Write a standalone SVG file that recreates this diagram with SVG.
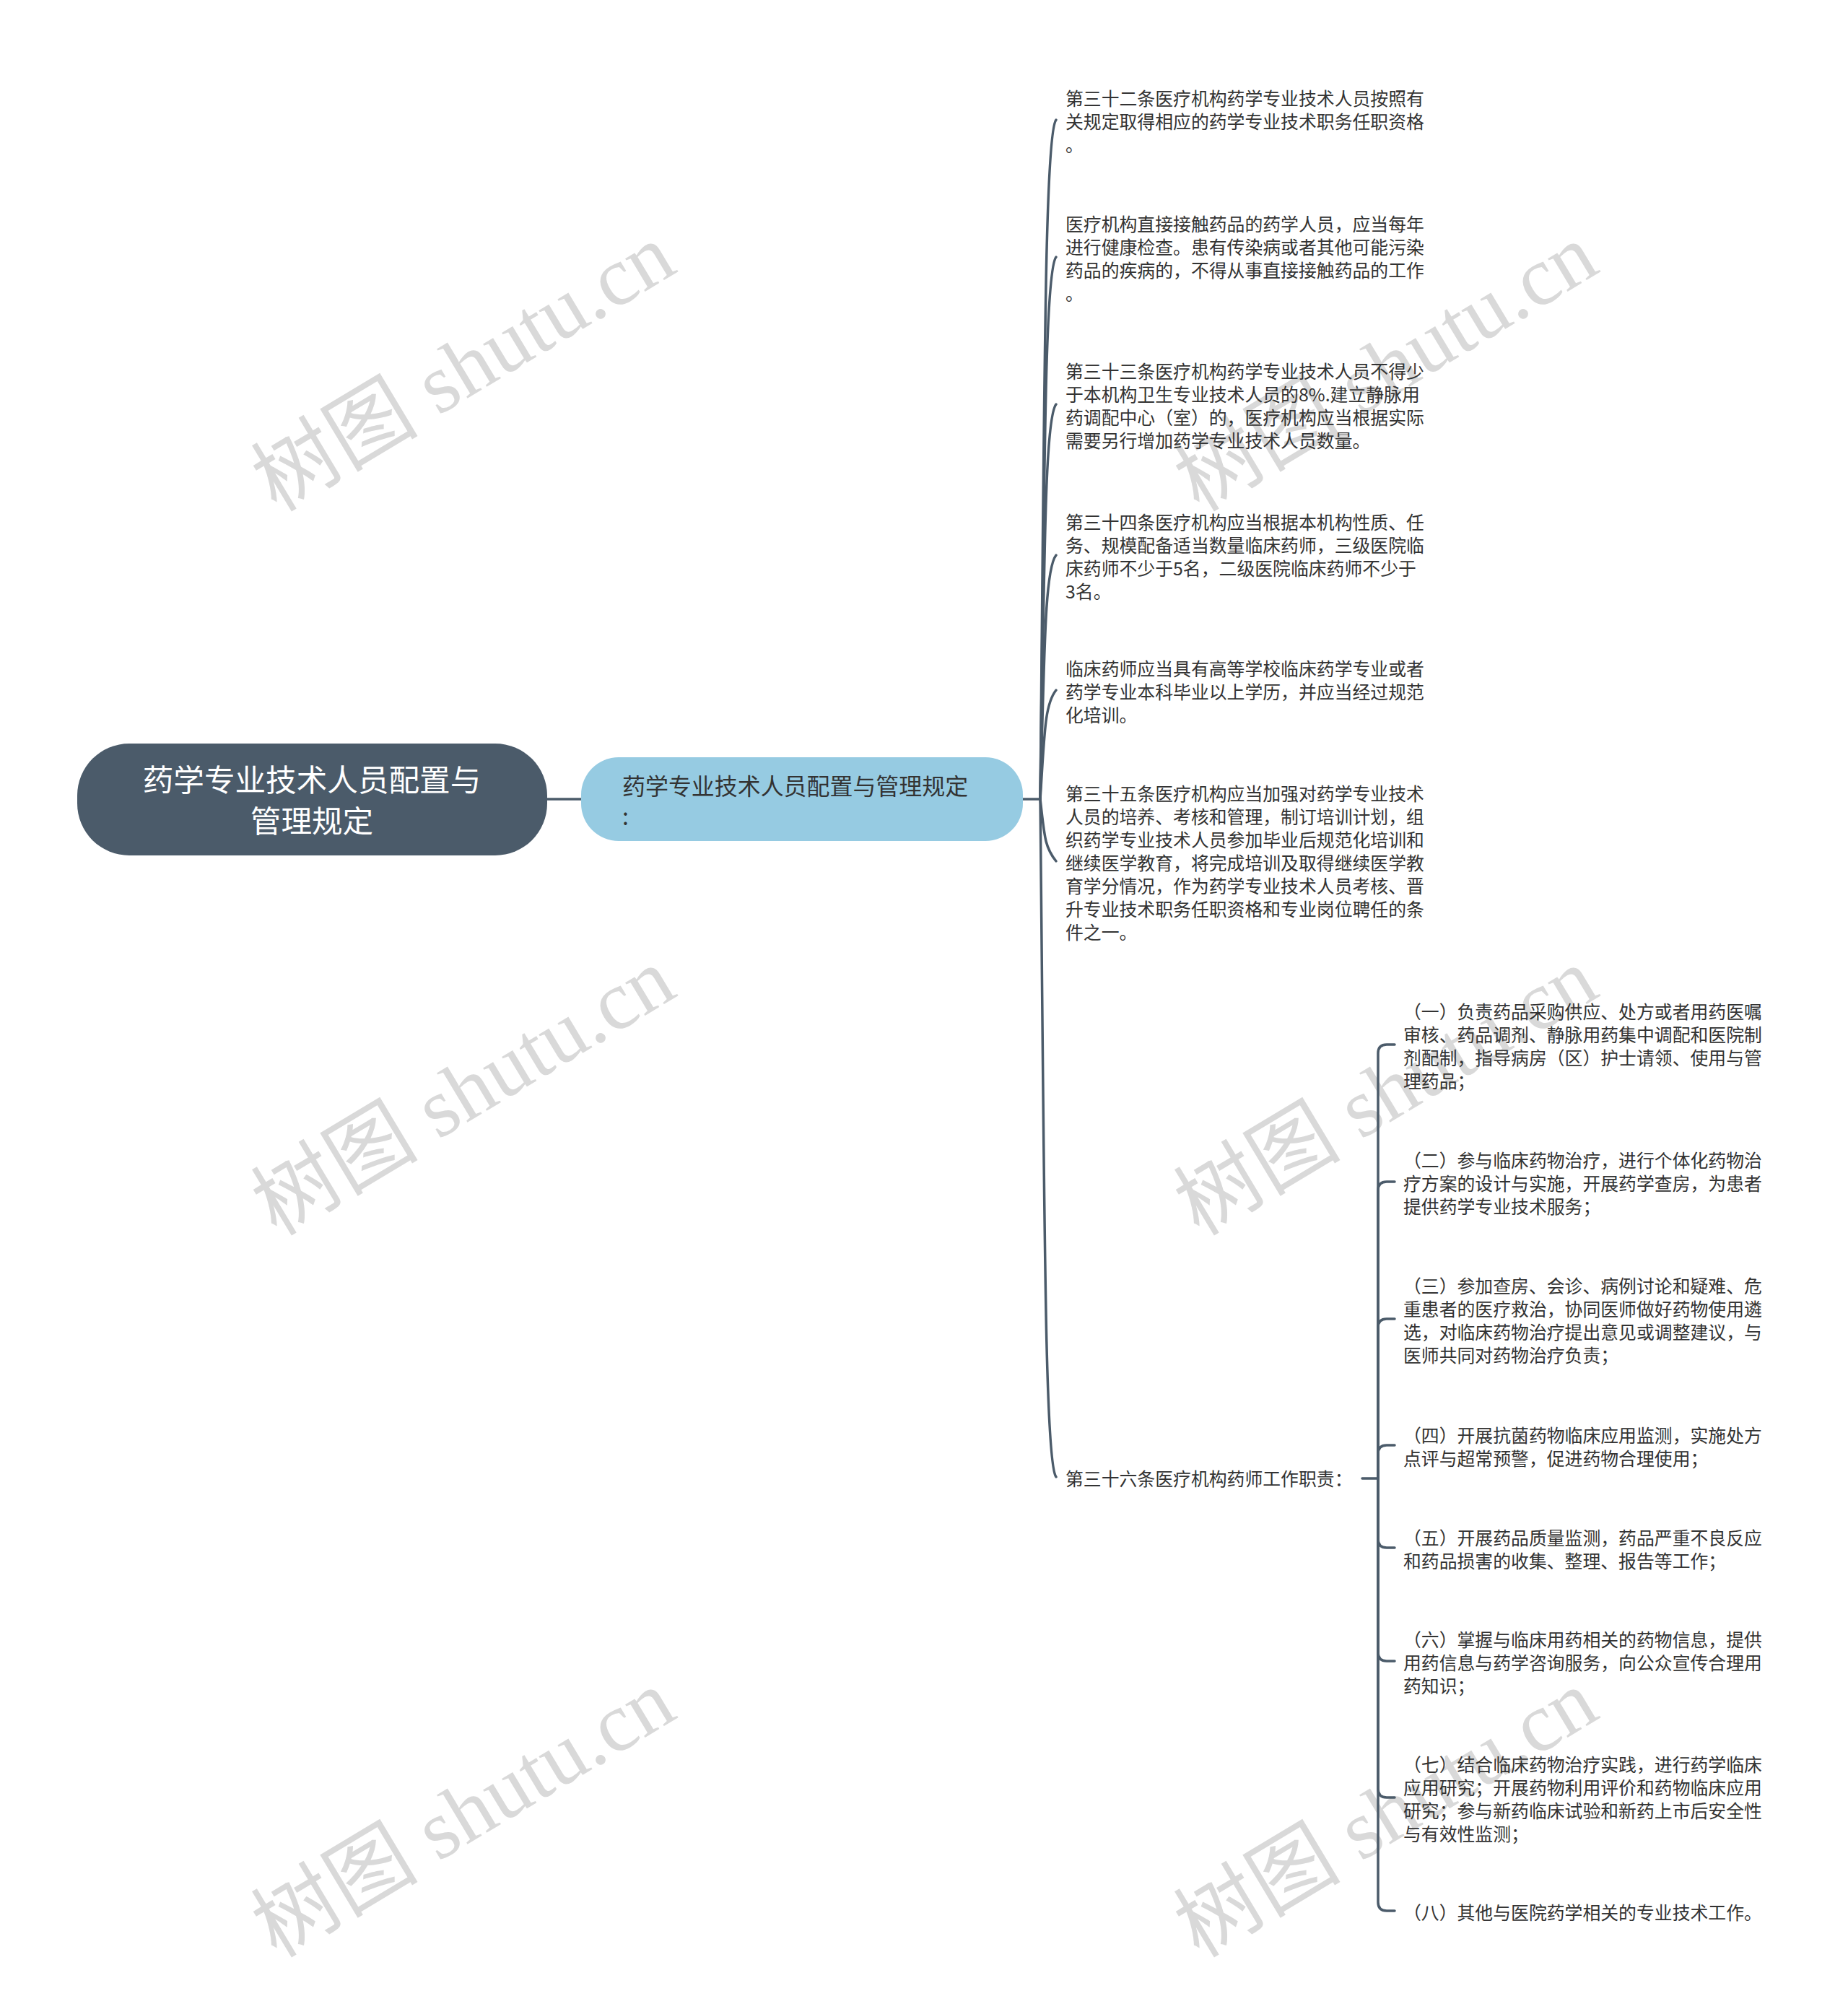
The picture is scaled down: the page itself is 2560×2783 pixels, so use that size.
<svg xmlns="http://www.w3.org/2000/svg" width="2560" height="2783" viewBox="0 0 2560 2783">
<style>
.bg{fill:#ffffff}
.wm{font-family:"Liberation Serif","Noto Sans CJK SC",serif;font-size:116px;fill:#d9d9d9}
.conn{fill:none;stroke:#4b5b6a;stroke-width:3.5;stroke-linecap:round;stroke-linejoin:round}
.leaf{font-family:"Noto Sans CJK SC","Noto Sans",sans-serif;font-size:24.85px;fill:#333333}
.root-box{fill:#4b5b6a}
.root-text{font-family:"Noto Sans CJK SC","Noto Sans",sans-serif;font-size:42.6px;fill:#ffffff;text-anchor:middle}
.sub-box{fill:#96cbe2}
.sub-text{font-family:"Noto Sans CJK SC","Noto Sans",sans-serif;font-size:31.95px;fill:#333333}
</style>
<rect class="bg" x="0" y="0" width="2560" height="2783"/>
<g id="watermarks">
<text class="wm" text-anchor="middle" transform="translate(662,543) rotate(-31)">树图 shutu.cn</text>
<text class="wm" text-anchor="middle" transform="translate(1940,543) rotate(-31)">树图 shutu.cn</text>
<text class="wm" text-anchor="middle" transform="translate(662,1546) rotate(-31)">树图 shutu.cn</text>
<text class="wm" text-anchor="middle" transform="translate(1940,1546) rotate(-31)">树图 shutu.cn</text>
<text class="wm" text-anchor="middle" transform="translate(662,2546) rotate(-31)">树图 shutu.cn</text>
<text class="wm" text-anchor="middle" transform="translate(1940,2546) rotate(-31)">树图 shutu.cn</text>
</g>
<g id="connectors">
<path class="conn" d="M758 1107 L805 1107"/>
<path class="conn" d="M1417 1107 L1441 1107"/>
<path class="conn" d="M1441 1107 C1447 542 1447 186 1463 166"/>
<path class="conn" d="M1441 1107 C1447 656 1447 376 1463 356"/>
<path class="conn" d="M1441 1107 C1447 779 1447 580 1463 560"/>
<path class="conn" d="M1441 1107 C1447 904 1447 789 1463 769"/>
<path class="conn" d="M1441 1107 C1447 1016 1447 976 1463 956"/>
<path class="conn" d="M1441 1107 C1447 1159 1447 1173 1463 1193"/>
<path class="conn" d="M1441 1107 C1447 1670 1447 2026 1463 2046"/>
<path class="conn" d="M1887 2048 L1909 2048"/>
<path class="conn" d="M1909 2048 L1909 1459 Q1909 1447 1921 1447 L1932 1447"/>
<path class="conn" d="M1909 2048 L1909 1649 Q1909 1637 1921 1637 L1932 1637"/>
<path class="conn" d="M1909 2048 L1909 1839 Q1909 1827 1921 1827 L1932 1827"/>
<path class="conn" d="M1909 2048 L1909 2014 Q1909 2002 1921 2002 L1932 2002"/>
<path class="conn" d="M1909 2048 L1909 2132 Q1909 2144 1921 2144 L1932 2144"/>
<path class="conn" d="M1909 2048 L1909 2289 Q1909 2301 1921 2301 L1932 2301"/>
<path class="conn" d="M1909 2048 L1909 2478 Q1909 2490 1921 2490 L1932 2490"/>
<path class="conn" d="M1909 2048 L1909 2635 Q1909 2647 1921 2647 L1932 2647"/>
</g>
<g id="root">
<rect class="root-box" x="107" y="1030" width="651" height="155" rx="72" ry="72"/>
<text class="root-text" x="432" y="1096">药学专业技术人员配置与</text>
<text class="root-text" x="432" y="1153">管理规定</text>
</g>
<g id="branch">
<rect class="sub-box" x="805" y="1049" width="612" height="116" rx="52" ry="52"/>
<text class="sub-text" x="862" y="1101">药学专业技术人员配置与管理规定</text>
<text class="sub-text" x="862" y="1143">:</text>
</g>
<g id="leaf1">
<text class="leaf" x="1476" y="146.4"><tspan x="1476">第三十二条医疗机构药学专业技术人员按照有</tspan><tspan x="1476" dy="31.96">关规定取得相应的药学专业技术职务任职资格</tspan><tspan x="1476" dy="31.96">。</tspan></text>
</g>
<g id="leaf2">
<text class="leaf" x="1476" y="320.4"><tspan x="1476">医疗机构直接接触药品的药学人员，应当每年</tspan><tspan x="1476" dy="31.96">进行健康检查。患有传染病或者其他可能污染</tspan><tspan x="1476" dy="31.96">药品的疾病的，不得从事直接接触药品的工作</tspan><tspan x="1476" dy="31.96">。</tspan></text>
</g>
<g id="leaf3">
<text class="leaf" x="1476" y="524.4"><tspan x="1476">第三十三条医疗机构药学专业技术人员不得少</tspan><tspan x="1476" dy="31.96">于本机构卫生专业技术人员的8%.建立静脉用</tspan><tspan x="1476" dy="31.96">药调配中心（室）的，医疗机构应当根据实际</tspan><tspan x="1476" dy="31.96">需要另行增加药学专业技术人员数量。</tspan></text>
</g>
<g id="leaf4">
<text class="leaf" x="1476" y="733.4"><tspan x="1476">第三十四条医疗机构应当根据本机构性质、任</tspan><tspan x="1476" dy="31.96">务、规模配备适当数量临床药师，三级医院临</tspan><tspan x="1476" dy="31.96">床药师不少于5名，二级医院临床药师不少于</tspan><tspan x="1476" dy="31.96">3名。</tspan></text>
</g>
<g id="leaf5">
<text class="leaf" x="1476" y="936.4"><tspan x="1476">临床药师应当具有高等学校临床药学专业或者</tspan><tspan x="1476" dy="31.96">药学专业本科毕业以上学历，并应当经过规范</tspan><tspan x="1476" dy="31.96">化培训。</tspan></text>
</g>
<g id="leaf6">
<text class="leaf" x="1476" y="1109.4"><tspan x="1476">第三十五条医疗机构应当加强对药学专业技术</tspan><tspan x="1476" dy="31.96">人员的培养、考核和管理，制订培训计划，组</tspan><tspan x="1476" dy="31.96">织药学专业技术人员参加毕业后规范化培训和</tspan><tspan x="1476" dy="31.96">继续医学教育，将完成培训及取得继续医学教</tspan><tspan x="1476" dy="31.96">育学分情况，作为药学专业技术人员考核、晋</tspan><tspan x="1476" dy="31.96">升专业技术职务任职资格和专业岗位聘任的条</tspan><tspan x="1476" dy="31.96">件之一。</tspan></text>
</g>
<g id="leaf7">
<text class="leaf" x="1476" y="2058.4">第三十六条医疗机构药师工作职责：</text>
</g>
<g id="duty1">
<text class="leaf" x="1944" y="1411.4"><tspan x="1944">（一）负责药品采购供应、处方或者用药医嘱</tspan><tspan x="1944" dy="31.96">审核、药品调剂、静脉用药集中调配和医院制</tspan><tspan x="1944" dy="31.96">剂配制，指导病房（区）护士请领、使用与管</tspan><tspan x="1944" dy="31.96">理药品；</tspan></text>
</g>
<g id="duty2">
<text class="leaf" x="1944" y="1617.4"><tspan x="1944">（二）参与临床药物治疗，进行个体化药物治</tspan><tspan x="1944" dy="31.96">疗方案的设计与实施，开展药学查房，为患者</tspan><tspan x="1944" dy="31.96">提供药学专业技术服务；</tspan></text>
</g>
<g id="duty3">
<text class="leaf" x="1944" y="1791.4"><tspan x="1944">（三）参加查房、会诊、病例讨论和疑难、危</tspan><tspan x="1944" dy="31.96">重患者的医疗救治，协同医师做好药物使用遴</tspan><tspan x="1944" dy="31.96">选，对临床药物治疗提出意见或调整建议，与</tspan><tspan x="1944" dy="31.96">医师共同对药物治疗负责；</tspan></text>
</g>
<g id="duty4">
<text class="leaf" x="1944" y="1998.4"><tspan x="1944">（四）开展抗菌药物临床应用监测，实施处方</tspan><tspan x="1944" dy="31.96">点评与超常预警，促进药物合理使用；</tspan></text>
</g>
<g id="duty5">
<text class="leaf" x="1944" y="2140.4"><tspan x="1944">（五）开展药品质量监测，药品严重不良反应</tspan><tspan x="1944" dy="31.96">和药品损害的收集、整理、报告等工作；</tspan></text>
</g>
<g id="duty6">
<text class="leaf" x="1944" y="2281.4"><tspan x="1944">（六）掌握与临床用药相关的药物信息，提供</tspan><tspan x="1944" dy="31.96">用药信息与药学咨询服务，向公众宣传合理用</tspan><tspan x="1944" dy="31.96">药知识；</tspan></text>
</g>
<g id="duty7">
<text class="leaf" x="1944" y="2454.4"><tspan x="1944">（七）结合临床药物治疗实践，进行药学临床</tspan><tspan x="1944" dy="31.96">应用研究；开展药物利用评价和药物临床应用</tspan><tspan x="1944" dy="31.96">研究；参与新药临床试验和新药上市后安全性</tspan><tspan x="1944" dy="31.96">与有效性监测；</tspan></text>
</g>
<g id="duty8">
<text class="leaf" x="1944" y="2659.4">（八）其他与医院药学相关的专业技术工作。</text>
</g>
</svg>
